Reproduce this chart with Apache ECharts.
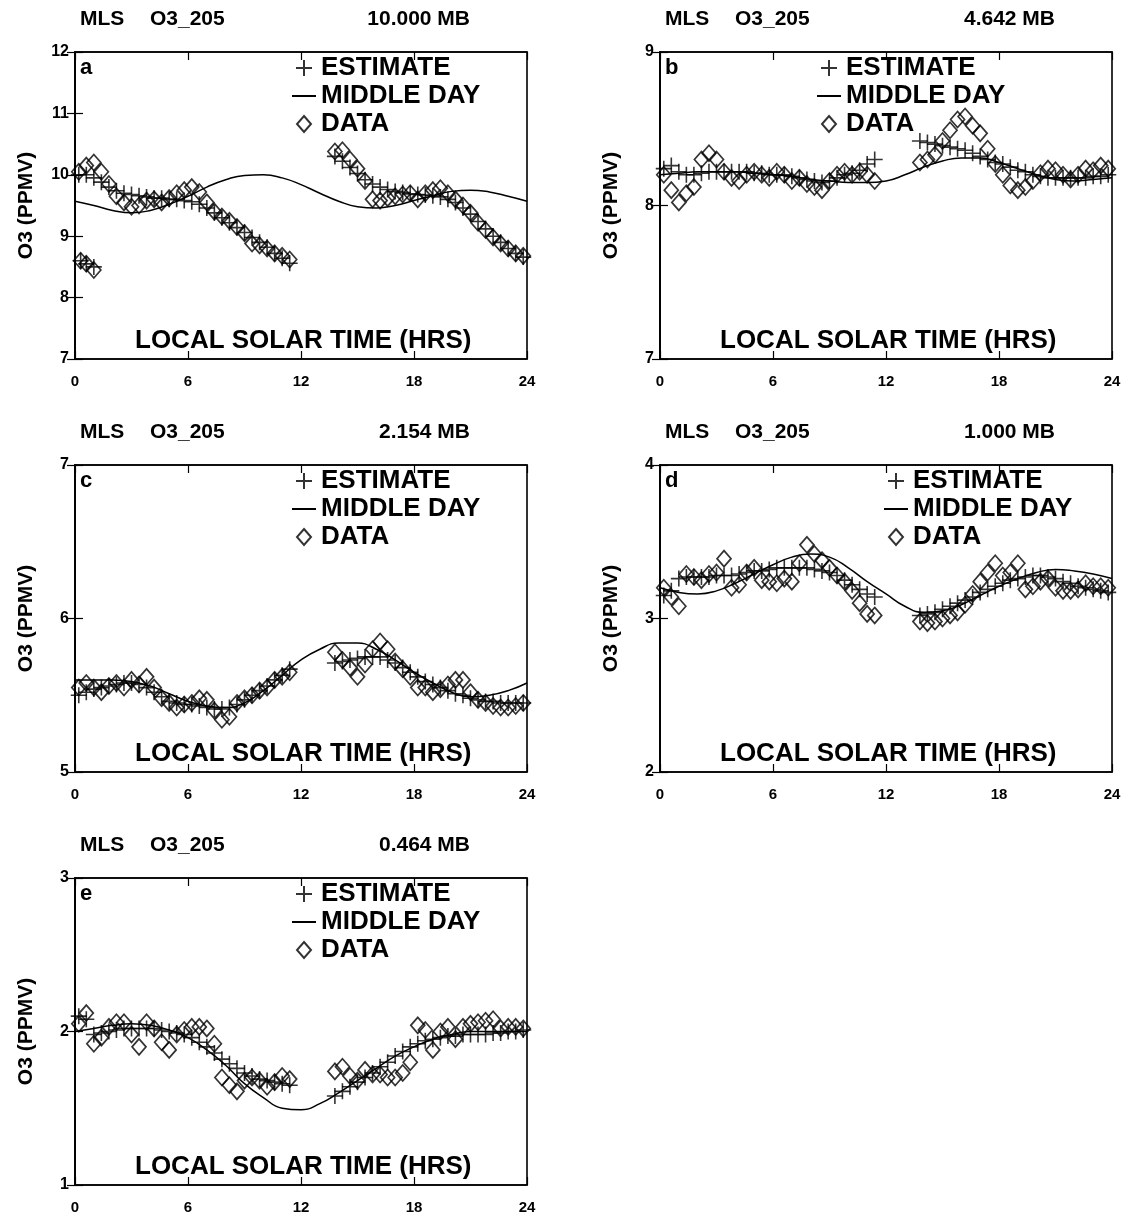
<!DOCTYPE html>
<html>
<head>
<meta charset="utf-8">
<title>MLS O3_205</title>
<script src="https://cdn.jsdelivr.net/npm/echarts@6/dist/echarts.min.js"></script>
<style>
html, body { margin: 0; padding: 0; background: #fff; }
#chart { width: 1131px; height: 1221px; }
</style>
</head>
<body>
<div id="chart"></div>
<script>
// local solar time of the samples (hrs), morning and afternoon passes
var hrsAM = [0.2, 0.6, 1.0, 1.4, 1.8, 2.2, 2.6, 3.0, 3.4, 3.8, 4.2, 4.6, 5.0, 5.4, 5.8, 6.2, 6.6, 7.0, 7.4, 7.8, 8.2, 8.6, 9.0, 9.4, 9.8, 10.2, 10.6, 11.0, 11.4];
var hrsPM = [13.8, 14.2, 14.6, 15.0, 15.4, 15.8, 16.2, 16.6, 17.0, 17.4, 17.8, 18.2, 18.6, 19.0, 19.4, 19.8, 20.2, 20.6, 21.0, 21.4, 21.8, 22.2, 22.6, 23.0, 23.4, 23.8];
var midHrs = [0, 1, 2, 3, 4, 5, 6, 7, 8, 9, 10, 11, 12, 13, 14, 15, 16, 17, 18, 19, 20, 21, 22, 23, 24];
var xTicks = ['0', '6', '12', '18', '24'];

// a: 10.000 MB
var aEstAM = [10.0, 10.0, 9.95, 9.88, 9.8, 9.74, 9.7, 9.68, 9.66, 9.64, 9.62, 9.62, 9.6, 9.6, 9.58, 9.56, 9.52, 9.46, 9.38, 9.3, 9.22, 9.14, 9.06, 8.98, 8.9, 8.82, 8.72, 8.64, 8.56];
var aDatAM = [10.05, 10.15, 10.2, 10.05, 9.85, 9.65, 9.55, 9.48, 9.5, 9.58, 9.6, 9.55, 9.62, 9.7, 9.75, 9.8, 9.72, 9.55, 9.4, 9.32, 9.25, 9.15, 9.05, 8.88, 8.85, 8.8, 8.72, 8.68, 8.62];
var aEstPM = [10.3, 10.22, 10.12, 10.02, 9.92, 9.85, 9.8, 9.76, 9.73, 9.71, 9.69, 9.68, 9.67, 9.66, 9.64, 9.6, 9.55, 9.46, 9.36, 9.24, 9.12, 9.0, 8.9, 8.8, 8.72, 8.66];
var aDatPM = [10.38, 10.4, 10.25, 10.1, 9.9, 9.6, 9.58, 9.62, 9.65, 9.68, 9.7, 9.6, 9.7, 9.75, 9.78, 9.7, 9.6, 9.5, 9.38, 9.22, 9.1, 8.98, 8.88, 8.8, 8.72, 8.68];
var aWrapHrs = [0.3, 0.6, 1.0];
var aWrapEst = [8.6, 8.55, 8.5];
var aWrapDat = [8.6, 8.55, 8.45];
var aMid = [9.57, 9.5, 9.42, 9.38, 9.42, 9.52, 9.65, 9.8, 9.92, 9.99, 10.0, 9.95, 9.84, 9.7, 9.57, 9.48, 9.46, 9.5, 9.58, 9.66, 9.73, 9.75, 9.72, 9.65, 9.57];

// b: 4.642 MB
var bEstAM = [8.24, 8.26, 8.22, 8.2, 8.2, 8.21, 8.22, 8.22, 8.22, 8.22, 8.22, 8.22, 8.21, 8.21, 8.2, 8.2, 8.2, 8.19, 8.18, 8.17, 8.16, 8.15, 8.16, 8.18, 8.2, 8.21, 8.23, 8.27, 8.3];
var bDatAM = [8.2, 8.1, 8.02, 8.08, 8.12, 8.3, 8.34, 8.3, 8.22, 8.18, 8.16, 8.2, 8.22, 8.2, 8.18, 8.22, 8.2, 8.16, 8.18, 8.14, 8.12, 8.1, 8.16, 8.2, 8.22, 8.2, 8.22, 8.2, 8.16];
var bEstPM = [8.42, 8.41, 8.4, 8.39, 8.38, 8.37, 8.36, 8.34, 8.32, 8.3, 8.28, 8.27, 8.25, 8.23, 8.22, 8.2, 8.19, 8.18, 8.18, 8.18, 8.18, 8.18, 8.18, 8.19, 8.19, 8.2];
var bDatPM = [8.28, 8.3, 8.33, 8.42, 8.49, 8.56, 8.58, 8.52, 8.47, 8.37, 8.27, 8.2, 8.13, 8.1, 8.12, 8.16, 8.21, 8.24, 8.23, 8.2, 8.17, 8.2, 8.24, 8.23, 8.26, 8.24];
var bMid = [8.2, 8.21, 8.22, 8.22, 8.22, 8.21, 8.2, 8.19, 8.17, 8.16, 8.15, 8.15, 8.16, 8.2, 8.25, 8.29, 8.31, 8.31, 8.28, 8.24, 8.2, 8.17, 8.16, 8.17, 8.18];

// c: 2.154 MB
var cEstAM = [5.5, 5.52, 5.54, 5.55, 5.56, 5.57, 5.58, 5.58, 5.57, 5.55, 5.52, 5.49, 5.46, 5.45, 5.44, 5.44, 5.43, 5.42, 5.41, 5.41, 5.42, 5.44, 5.47, 5.5, 5.53, 5.56, 5.6, 5.63, 5.67];
var cDatAM = [5.55, 5.58, 5.55, 5.52, 5.56, 5.58, 5.55, 5.6, 5.57, 5.62, 5.55, 5.48, 5.45, 5.42, 5.44, 5.45, 5.48, 5.47, 5.4, 5.34, 5.36, 5.45, 5.48, 5.5, 5.53, 5.55, 5.6, 5.62, 5.65];
var cEstPM = [5.71, 5.72, 5.73, 5.74, 5.75, 5.75, 5.75, 5.73, 5.71, 5.68, 5.65, 5.62, 5.59, 5.57, 5.55, 5.53, 5.51, 5.5, 5.48, 5.47, 5.46, 5.46, 5.45, 5.45, 5.45, 5.45];
var cDatPM = [5.78, 5.73, 5.68, 5.62, 5.7, 5.8, 5.85, 5.8, 5.72, 5.67, 5.62, 5.55, 5.55, 5.52, 5.54, 5.57, 5.6, 5.6, 5.52, 5.47, 5.45, 5.43, 5.42, 5.42, 5.43, 5.45];
var cMid = [5.6, 5.6, 5.6, 5.59, 5.56, 5.51, 5.46, 5.43, 5.42, 5.45, 5.53, 5.63, 5.73, 5.8, 5.84, 5.84, 5.8, 5.73, 5.65, 5.58, 5.52, 5.49, 5.5, 5.53, 5.58];

// d: 1.000 MB
var dEstAM = [3.15, 3.18, 3.26, 3.27, 3.27, 3.27, 3.27, 3.28, 3.28, 3.28, 3.29, 3.3, 3.31, 3.31, 3.32, 3.33, 3.33, 3.33, 3.33, 3.33, 3.32, 3.31, 3.3, 3.28, 3.25, 3.22, 3.19, 3.16, 3.14];
var dDatAM = [3.2, 3.14, 3.08, 3.29, 3.27, 3.25, 3.29, 3.3, 3.39, 3.2, 3.22, 3.3, 3.33, 3.25, 3.24, 3.23, 3.26, 3.24, 3.36, 3.48, 3.42, 3.38, 3.33, 3.28, 3.24, 3.18, 3.1, 3.03, 3.02];
var dEstPM = [3.02, 3.03, 3.04, 3.06, 3.08, 3.1, 3.12, 3.14, 3.17, 3.19, 3.21, 3.23, 3.25, 3.26, 3.27, 3.28, 3.28, 3.27, 3.26, 3.24, 3.23, 3.21, 3.2, 3.19, 3.18, 3.17];
var dDatPM = [2.98, 2.97, 2.98, 3.0, 3.02, 3.04, 3.09, 3.16, 3.24, 3.3, 3.36, 3.28, 3.3, 3.36, 3.19, 3.21, 3.24, 3.26, 3.2, 3.18, 3.18, 3.19, 3.23, 3.21, 3.21, 3.2];
var dMid = [3.2, 3.17, 3.16, 3.18, 3.23, 3.29, 3.35, 3.4, 3.42, 3.4, 3.33, 3.24, 3.16, 3.08, 3.04, 3.05, 3.09, 3.15, 3.21, 3.26, 3.3, 3.32, 3.31, 3.29, 3.26];

// e: 0.464 MB
var eEstAM = [2.1, 2.08, 1.98, 1.99, 2.0, 2.01, 2.02, 2.02, 2.02, 2.02, 2.02, 2.01, 2.0, 1.99, 1.98, 1.96, 1.93, 1.9, 1.86, 1.82, 1.79, 1.76, 1.73, 1.71, 1.69, 1.68, 1.67, 1.66, 1.65];
var eDatAM = [2.05, 2.12, 1.92, 1.96, 2.03, 2.06, 2.06, 1.98, 1.9, 2.06, 2.02, 1.93, 1.88, 1.98, 2.01, 2.03, 2.03, 2.02, 1.92, 1.7, 1.65, 1.61, 1.68, 1.7, 1.68, 1.64, 1.67, 1.71, 1.69];
var eEstPM = [1.58, 1.61, 1.64, 1.67, 1.7, 1.73, 1.77, 1.8, 1.84, 1.87, 1.9, 1.92, 1.94, 1.95, 1.96, 1.97, 1.97, 1.98, 1.98, 1.98, 1.98, 1.99, 1.99, 2.0, 2.0, 2.01];
var eDatPM = [1.74, 1.77, 1.71, 1.68, 1.75, 1.72, 1.72, 1.7, 1.7, 1.73, 1.8, 2.04, 2.01, 1.88, 2.0, 2.03, 1.95, 2.03, 2.05, 2.06, 2.07, 2.08, 2.02, 2.03, 2.03, 2.02];
var eMid = [2.0, 2.02, 2.04, 2.05, 2.04, 2.01, 1.96, 1.88, 1.78, 1.66, 1.57, 1.5, 1.49, 1.53, 1.6, 1.68, 1.76, 1.84, 1.9, 1.95, 1.98, 2.0, 2.0, 2.0, 2.0];

function pairs(xs, ys) {
  var out = []
  for (var i = 0; i < Math.min(xs.length, ys.length); i++) out.push([xs[i], ys[i]])
  return out
}

var panels = [
  { tag: 'a', pres: '10.000 MB', col: 0, row: 0, min: 7, max: 12, legX: 243,
    est: pairs(hrsAM, aEstAM).concat(pairs(hrsPM, aEstPM), pairs(aWrapHrs, aWrapEst)),
    dat: pairs(hrsAM, aDatAM).concat(pairs(hrsPM, aDatPM), pairs(aWrapHrs, aWrapDat)),
    mid: pairs(midHrs, aMid) },
  { tag: 'b', pres: '4.642 MB', col: 1, row: 0, min: 7, max: 9, legX: 183,
    est: pairs(hrsAM, bEstAM).concat(pairs(hrsPM, bEstPM)),
    dat: pairs(hrsAM, bDatAM).concat(pairs(hrsPM, bDatPM)),
    mid: pairs(midHrs, bMid) },
  { tag: 'c', pres: '2.154 MB', col: 0, row: 1, min: 5, max: 7, legX: 243,
    est: pairs(hrsAM, cEstAM).concat(pairs(hrsPM, cEstPM)),
    dat: pairs(hrsAM, cDatAM).concat(pairs(hrsPM, cDatPM)),
    mid: pairs(midHrs, cMid) },
  { tag: 'd', pres: '1.000 MB', col: 1, row: 1, min: 2, max: 4, legX: 250,
    est: pairs(hrsAM, dEstAM).concat(pairs(hrsPM, dEstPM)),
    dat: pairs(hrsAM, dDatAM).concat(pairs(hrsPM, dDatPM)),
    mid: pairs(midHrs, dMid) },
  { tag: 'e', pres: '0.464 MB', col: 0, row: 2, min: 1, max: 3, legX: 243,
    est: pairs(hrsAM, eEstAM).concat(pairs(hrsPM, eEstPM)),
    dat: pairs(hrsAM, eDatAM).concat(pairs(hrsPM, eDatPM)),
    mid: pairs(midHrs, eMid) }
]

var colLeft = [75, 660]
var rowTop = [52, 465, 878]
var gw = 452
var gh = 307
var font = '"Liberation Sans", Arial, Helvetica, sans-serif'
var plusPath = 'path://M0,8L16,8M8,0L8,16'
var diamondPath = 'path://M7,0L14,8L7,16L0,8Z'

var grid = []
var xAxis = []
var yAxis = []
var series = []
var legend = []
var graphic = []

panels.forEach(function (p, i) {
  var left = colLeft[p.col]
  var top = rowTop[p.row]
  grid.push({ left: left, top: top, width: gw, height: gh, show: true, borderColor: '#000', borderWidth: 1.6, backgroundColor: 'transparent' })

  // bottom axis with labels, top axis only for inner ticks
  xAxis.push({
    gridIndex: i, type: 'value', min: 0, max: 24, interval: 6, position: 'bottom',
    axisLine: { show: true, lineStyle: { color: '#000', width: 1.6 } },
    axisTick: { show: true, inside: true, length: 8, lineStyle: { color: '#000', width: 1.2 } },
    axisLabel: { show: true, margin: 15, color: '#000', fontSize: 15, fontWeight: 'bold', fontFamily: font,
      formatter: function (v) { return xTicks[v / 6] } },
    splitLine: { show: false }
  })
  xAxis.push({
    gridIndex: i, type: 'value', min: 0, max: 24, interval: 6, position: 'top',
    axisLine: { show: true, lineStyle: { color: '#000', width: 1.6 } },
    axisTick: { show: true, inside: true, length: 8, lineStyle: { color: '#000', width: 1.2 } },
    axisLabel: { show: false },
    splitLine: { show: false }
  })
  yAxis.push({
    gridIndex: i, type: 'value', min: p.min, max: p.max, interval: 1, position: 'left',
    name: 'O3 (PPMV)', nameLocation: 'middle', nameGap: 38, nameRotate: 90,
    nameTextStyle: { color: '#000', fontSize: 21, fontWeight: 'bold', fontFamily: font },
    axisLine: { show: true, lineStyle: { color: '#000', width: 1.6 } },
    axisTick: { show: true, inside: true, length: 8, lineStyle: { color: '#000', width: 1.2 } },
    axisLabel: { show: true, margin: 6, color: '#000', fontSize: 16, fontWeight: 'bold', fontFamily: font },
    splitLine: { show: false }
  })
  yAxis.push({
    gridIndex: i, type: 'value', min: p.min, max: p.max, interval: 1, position: 'right',
    axisLine: { show: true, lineStyle: { color: '#000', width: 1.6 } },
    axisTick: { show: true, inside: true, length: 8, lineStyle: { color: '#000', width: 1.2 } },
    axisLabel: { show: false },
    splitLine: { show: false }
  })

  series.push({
    name: 'ESTIMATE', type: 'scatter', xAxisIndex: 2 * i, yAxisIndex: 2 * i,
    symbol: plusPath, symbolSize: 16, symbolKeepAspect: true,
    itemStyle: { color: 'rgba(0,0,0,0)', borderColor: '#000', borderWidth: 1.6 },
    data: p.est, z: 3
  })
  series.push({
    name: 'MIDDLE DAY', type: 'line', xAxisIndex: 2 * i, yAxisIndex: 2 * i,
    symbol: 'none', smooth: true,
    lineStyle: { color: '#000', width: 1.5 },
    itemStyle: { color: '#000' },
    data: p.mid, z: 2
  })
  series.push({
    name: 'DATA', type: 'scatter', xAxisIndex: 2 * i, yAxisIndex: 2 * i,
    symbol: diamondPath, symbolSize: 16, symbolKeepAspect: true,
    itemStyle: { color: 'rgba(0,0,0,0)', borderColor: '#000', borderWidth: 1.7 },
    data: p.dat, z: 4
  })

  legend.push({
    orient: 'vertical', left: left + p.legX - 27, top: top + 3, padding: 0,
    itemWidth: 24, itemHeight: 16, itemGap: 2, selectedMode: false,
    data: [
      'ESTIMATE',
      { name: 'MIDDLE DAY', itemStyle: { color: 'rgba(0,0,0,0)', borderColor: 'rgba(0,0,0,0)', opacity: 0 } },
      'DATA'
    ],
    textStyle: { color: '#000', fontSize: 26, lineHeight: 26, fontWeight: 'bold', fontFamily: font }
  })

  var tStyle = { fill: '#000', fontSize: 21, fontWeight: 'bold', fontFamily: font, textVerticalAlign: 'middle' }
  graphic.push({ type: 'text', left: left + 5, top: top - 43, style: Object.assign({ text: 'MLS' }, tStyle) })
  graphic.push({ type: 'text', left: left + 75, top: top - 43, style: Object.assign({ text: 'O3_205' }, tStyle) })
  graphic.push({ type: 'text', right: 1131 - (left + 395), top: top - 43, style: Object.assign({ text: p.pres }, tStyle) })
  graphic.push({ type: 'text', left: left + 5, top: top + 5, style: Object.assign({}, tStyle, { text: p.tag, fontSize: 22 }) })
  graphic.push({ type: 'text', left: left + 60, top: top + 276,
    style: Object.assign({}, tStyle, { text: 'LOCAL SOLAR TIME (HRS)', fontSize: 26 }) })
})

const myChart = echarts.init(document.getElementById('chart'))
myChart.setOption({
  animation: false,
  backgroundColor: '#fff',
  grid: grid,
  xAxis: xAxis,
  yAxis: yAxis,
  legend: legend,
  graphic: graphic,
  series: series
})
</script>
</body>
</html>
